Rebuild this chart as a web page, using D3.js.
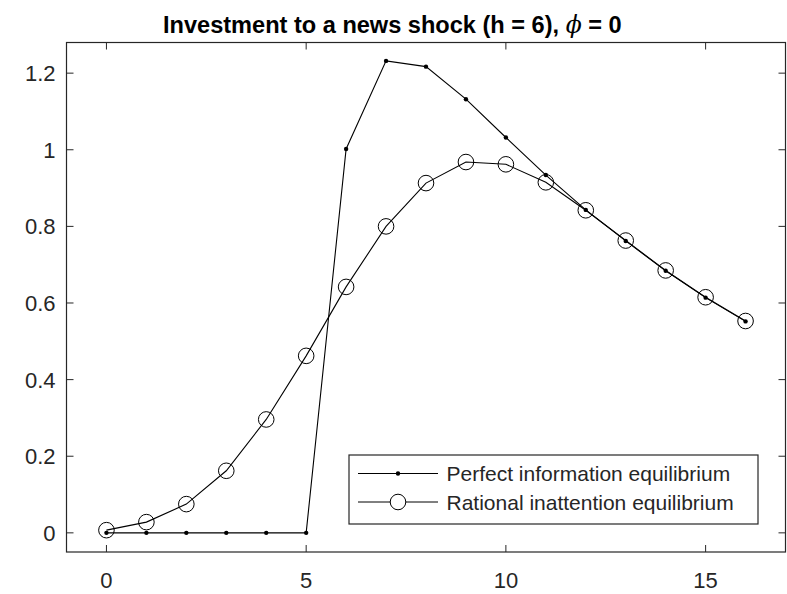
<!DOCTYPE html>
<html>
<head>
<meta charset="utf-8">
<script src="https://cdn.jsdelivr.net/npm/d3@7"></script>
<style>
  body { margin: 0; background: #fff; }
  svg { display: block; font-family: "Liberation Sans", Arial, sans-serif; }
</style>
</head>
<body>
<svg id="chart"></svg>
<script>
// periods after the news arrives
const periods = d3.range(0, 17);
// investment response, perfect information
const perfectInfo = [0, 0, 0, 0, 0, 0, 1.002, 1.232, 1.217, 1.132, 1.032, 0.934, 0.843, 0.762, 0.684, 0.614, 0.552];
// investment response, rational inattention
const rationalInatt = [0.007, 0.028, 0.075, 0.162, 0.296, 0.462, 0.642, 0.800, 0.913, 0.968, 0.962, 0.915, 0.842, 0.763, 0.685, 0.615, 0.553];
const xTicks = [0, 5, 10, 15];
const yTicks = [0, 0.2, 0.4, 0.6, 0.8, 1, 1.2];
const seriesNames = ['Perfect information equilibrium', 'Rational inattention equilibrium'];

const width = 787, height = 594;
const margin = {top: 42.5, right: 1.5, bottom: 42, left: 66.5};
const innerW = width - margin.left - margin.right;
const innerH = height - margin.top - margin.bottom;

const svg = d3.select('#chart').attr('width', width).attr('height', height);
const g = svg.append('g').attr('transform', `translate(${margin.left},${margin.top})`);

const x = d3.scaleLinear().domain([-1, 17]).range([0, innerW]);
const y = d3.scaleLinear().domain([-0.05, 1.28]).range([innerH, 0]);

const tickLen = 7;
const axisColor = '#262626';

// box
g.append('rect')
    .attr('width', innerW).attr('height', innerH)
    .attr('fill', 'none').attr('stroke', axisColor).attr('stroke-width', 1.2);

// ticks on all four sides (pointing inward)
xTicks.forEach(t => {
  g.append('line').attr('x1', x(t)).attr('x2', x(t)).attr('y1', innerH).attr('y2', innerH - tickLen)
      .attr('stroke', axisColor);
  g.append('line').attr('x1', x(t)).attr('x2', x(t)).attr('y1', 0).attr('y2', tickLen)
      .attr('stroke', axisColor);
});
yTicks.forEach(t => {
  g.append('line').attr('x1', 0).attr('x2', tickLen).attr('y1', y(t)).attr('y2', y(t))
      .attr('stroke', axisColor);
  g.append('line').attr('x1', innerW).attr('x2', innerW - tickLen).attr('y1', y(t)).attr('y2', y(t))
      .attr('stroke', axisColor);
});

// tick labels
g.selectAll('.xlab').data(xTicks).join('text')
    .attr('class', 'xlab')
    .attr('x', d => x(d)).attr('y', innerH + 35.5)
    .attr('text-anchor', 'middle').attr('font-size', 22).attr('fill', axisColor)
    .text(d => d);
g.selectAll('.ylab').data(yTicks).join('text')
    .attr('class', 'ylab')
    .attr('x', -11).attr('y', d => y(d) + 8)
    .attr('text-anchor', 'end').attr('font-size', 22).attr('fill', axisColor)
    .text(d => d);

// lines
const line = d3.line().x((d, i) => x(periods[i])).y(d => y(d));

g.append('path').datum(perfectInfo)
    .attr('d', line).attr('fill', 'none').attr('stroke', '#000').attr('stroke-width', 1.1);
g.append('path').datum(rationalInatt)
    .attr('d', line).attr('fill', 'none').attr('stroke', '#000').attr('stroke-width', 1.1);

g.selectAll('.dot').data(perfectInfo).join('circle')
    .attr('class', 'dot')
    .attr('cx', (d, i) => x(periods[i])).attr('cy', d => y(d))
    .attr('r', 2.2).attr('fill', '#000');
g.selectAll('.ring').data(rationalInatt).join('circle')
    .attr('class', 'ring')
    .attr('cx', (d, i) => x(periods[i])).attr('cy', d => y(d))
    .attr('r', 7.8).attr('fill', 'none').attr('stroke', '#000').attr('stroke-width', 1);

// legend
const legend = svg.append('g').attr('transform', 'translate(349,455)');
legend.append('rect')
    .attr('width', 409).attr('height', 69)
    .attr('fill', '#fff').attr('stroke', axisColor).attr('stroke-width', 1.2);
seriesNames.forEach((name, i) => {
  const ly = 18.5 + i * 28.5;
  legend.append('line').attr('x1', 9).attr('x2', 89).attr('y1', ly).attr('y2', ly)
      .attr('stroke', '#000');
  if (i === 0) {
    legend.append('circle').attr('cx', 49).attr('cy', ly).attr('r', 2.2).attr('fill', '#000');
  } else {
    legend.append('circle').attr('cx', 49).attr('cy', ly).attr('r', 7.8)
        .attr('fill', '#fff').attr('stroke', '#000');
  }
  legend.append('text').attr('x', 97.5).attr('y', ly + 7.5)
      .attr('font-size', 21).attr('fill', axisColor).text(name);
});

// title
const title = svg.append('text')
    .attr('x', 163).attr('y', 33)
    .attr('text-anchor', 'start').attr('font-size', 25).attr('font-weight', 'bold')
    .attr('fill', '#000');
title.append('tspan').text('Investment to a news shock (h = 6), ');
title.append('tspan').attr('font-family', '"DejaVu Serif", serif').attr('font-style', 'italic')
    .attr('font-weight', 'normal').text('ϕ');
title.append('tspan').text(' = 0');

// fit title to the width it takes in the original figure
const tw = title.node().getComputedTextLength();
title.attr('font-size', 25 * 459 / tw);
</script>
</body>
</html>
